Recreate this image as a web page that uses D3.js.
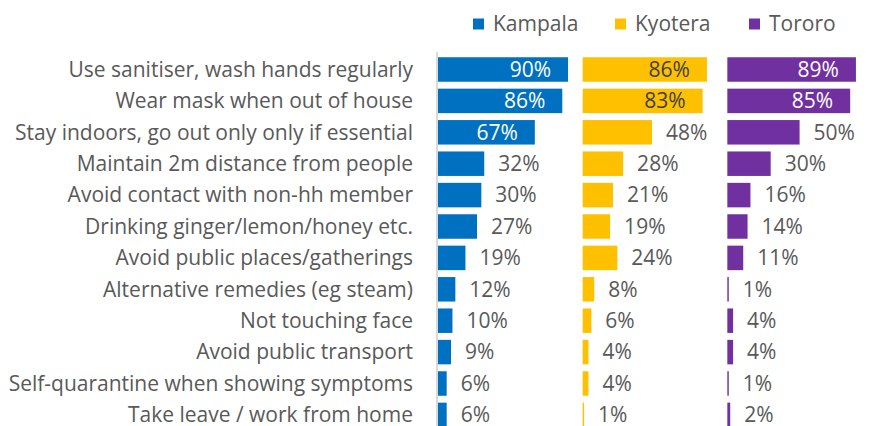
<!DOCTYPE html>
<html>
<head>
<meta charset="utf-8">
<script src="https://cdn.jsdelivr.net/npm/d3@7"></script>
<style>
body { margin: 0; background: #fff; }
text { font-family: "Open Sans", "Liberation Sans", sans-serif; }
</style>
</head>
<body>
<script>
var categories = [
	"Use sanitiser, wash hands regularly",
	"Wear mask when out of house",
	"Stay indoors, go out only only if essential",
	"Maintain 2m distance from people",
	"Avoid contact with non-hh member",
	"Drinking ginger/lemon/honey etc.",
	"Avoid public places/gatherings",
	"Alternative remedies (eg steam)",
	"Not touching face",
	"Avoid public transport",
	"Self-quarantine when showing symptoms",
	"Take leave / work from home"
];
var cities = ["Kampala", "Kyotera", "Tororo"];
var kampala = [90, 86, 67, 32, 30, 27, 19, 12, 10, 9, 6, 6];
var kyotera = [86, 83, 48, 28, 21, 19, 24, 8, 6, 4, 4, 1];
var tororo = [89, 85, 50, 30, 16, 14, 11, 1, 4, 4, 1, 2];
var series = [kampala, kyotera, tororo];

var colors = ["#0070C0", "#FFC000", "#7030A0"];
var insideText = ["#ffffff", "#404040", "#ffffff"];

var w = 870, h = 426;
var fontSize = "21px";
var svg = d3.select("body").append("svg")
	.attr("width", w)
	.attr("height", h);

// one band per city, each holds a 0-100% scale
var panel = d3.scaleBand()
	.domain(cities)
	.range([438, 872]);
var xScale = d3.scaleLinear()
	.domain([0, 100])
	.range([0, 144.5]);
var yScale = d3.scaleBand()
	.domain(categories)
	.range([53.8, 430.6])
	.paddingInner(0.22)
	.paddingOuter(0.11);

// category labels
svg.selectAll("text.cat")
	.data(categories)
	.enter()
	.append("text")
	.attr("class", "cat")
	.attr("x", 413)
	.attr("y", function(d) { return yScale(d) + yScale.bandwidth() / 2; })
	.attr("dy", "0.35em")
	.attr("text-anchor", "end")
	.attr("font-size", fontSize)
	.attr("fill", "#595959")
	.text(function(d) { return d; });

// axis line
svg.append("line")
	.attr("x1", 437).attr("x2", 437)
	.attr("y1", 52).attr("y2", h)
	.attr("stroke", "#d9d9d9")
	.attr("stroke-width", 2);

cities.forEach(function(city, ci) {
	var g = svg.append("g")
		.attr("transform", "translate(" + panel(city) + ",0)");
	var vals = series[ci];

	g.selectAll("rect")
		.data(vals)
		.enter()
		.append("rect")
		.attr("x", 0)
		.attr("y", function(d, i) { return yScale(categories[i]); })
		.attr("width", function(d) { return xScale(d); })
		.attr("height", yScale.bandwidth())
		.attr("fill", colors[ci]);

	// big values sit inside the bar end, the rest just outside
	g.selectAll("text")
		.data(vals)
		.enter()
		.append("text")
		.attr("x", function(d) {
			return d >= 60 ? xScale(d) - 17 : xScale(d) + 14;
		})
		.attr("y", function(d, i) { return yScale(categories[i]) + yScale.bandwidth() / 2; })
		.attr("dy", "0.35em")
		.attr("text-anchor", function(d) { return d >= 60 ? "end" : "start"; })
		.attr("font-size", fontSize)
		.attr("fill", function(d) { return d >= 60 ? insideText[ci] : "#595959"; })
		.text(function(d) { return d + "%"; });
});

// legend
var legendX = [473, 615, 749];
var legend = svg.selectAll("g.legend")
	.data(cities)
	.enter()
	.append("g")
	.attr("class", "legend")
	.attr("transform", function(d, i) { return "translate(" + legendX[i] + ",24)"; });
legend.append("rect")
	.attr("x", 0).attr("y", -5.5)
	.attr("width", 11).attr("height", 11)
	.attr("fill", function(d, i) { return colors[i]; });
legend.append("text")
	.attr("x", 20)
	.attr("dy", "0.35em")
	.attr("font-size", fontSize)
	.attr("fill", "#595959")
	.text(function(d) { return d; });
</script>
</body>
</html>
